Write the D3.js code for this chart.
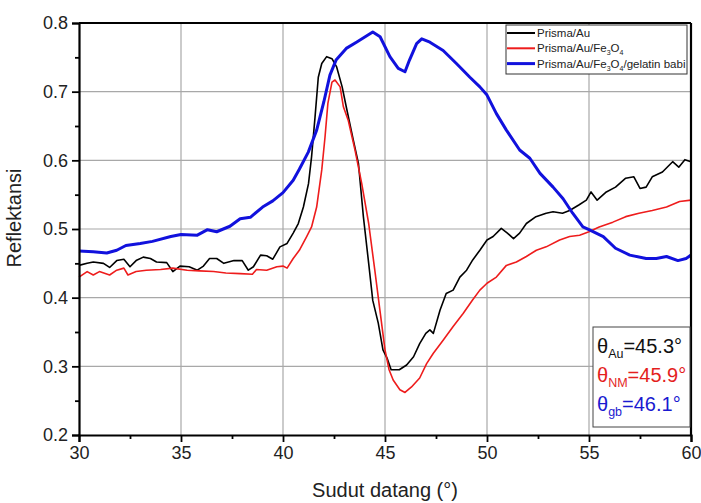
<!DOCTYPE html>
<html>
<head>
<meta charset="utf-8">
<script src="https://cdn.jsdelivr.net/npm/d3@7"></script>
<style>
  body { margin: 0; background: #fff; }
  text { font-family: "Liberation Sans", Arial, sans-serif; }
</style>
</head>
<body>
<div id="chart"></div>
<script>
// data
var auAngle = [30, 30.4, 30.7, 31.2, 31.5, 31.85, 32.2, 32.5, 32.8, 33.15, 33.5, 33.8, 34.3, 34.6, 34.95, 35.4, 35.8, 36.1, 36.4, 36.75, 37.1, 37.6, 38, 38.3, 38.55, 38.9, 39.2, 39.5, 39.85, 40.2, 40.5, 40.75, 41, 41.25, 41.4, 41.57, 41.73, 41.9, 42.14, 42.4, 42.63, 42.9, 43.1, 43.45, 43.7, 43.94, 44.2, 44.4, 44.67, 44.9, 45.1, 45.3, 45.7, 46.06, 46.4, 46.7, 47, 47.2, 47.37, 47.7, 48, 48.34, 48.67, 49, 49.3, 49.65, 50, 50.3, 50.7, 51, 51.3, 51.6, 51.93, 52.4, 52.9, 53.24, 53.7, 54.05, 54.5, 54.87, 55.1, 55.4, 55.85, 56.3, 56.8, 57.2, 57.5, 57.8, 58.1, 58.6, 59.1, 59.4, 59.7, 60];
var auValue = [0.447, 0.450, 0.452, 0.450, 0.444, 0.454, 0.456, 0.445, 0.454, 0.459, 0.457, 0.452, 0.451, 0.438, 0.446, 0.445, 0.440, 0.446, 0.457, 0.457, 0.450, 0.454, 0.454, 0.440, 0.445, 0.462, 0.461, 0.456, 0.474, 0.479, 0.494, 0.508, 0.532, 0.566, 0.605, 0.663, 0.721, 0.741, 0.751, 0.748, 0.736, 0.707, 0.678, 0.629, 0.595, 0.518, 0.450, 0.396, 0.363, 0.324, 0.312, 0.295, 0.295, 0.302, 0.314, 0.333, 0.348, 0.353, 0.348, 0.382, 0.406, 0.411, 0.430, 0.440, 0.455, 0.469, 0.484, 0.489, 0.501, 0.494, 0.486, 0.494, 0.508, 0.518, 0.523, 0.525, 0.523, 0.527, 0.535, 0.542, 0.554, 0.542, 0.554, 0.561, 0.574, 0.576, 0.559, 0.561, 0.576, 0.583, 0.598, 0.590, 0.601, 0.598];

var fe3o4Angle = [30, 30.4, 30.7, 31, 31.5, 31.85, 32.2, 32.4, 32.8, 33.3, 34, 34.6, 35.3, 35.9, 36.6, 37.2, 37.9, 38.5, 38.7, 39.2, 39.7, 40, 40.2, 40.5, 40.8, 41.16, 41.4, 41.65, 41.9, 42.06, 42.2, 42.4, 42.55, 42.8, 42.96, 43.2, 43.53, 43.86, 44.2, 44.5, 44.75, 45, 45.2, 45.4, 45.73, 45.98, 46.3, 46.7, 47.04, 47.37, 47.85, 48.34, 48.83, 49.3, 49.65, 50, 50.46, 50.95, 51.44, 51.93, 52.42, 52.9, 53.56, 54.05, 54.54, 55, 55.5, 56.17, 56.8, 57.45, 58.1, 58.8, 59.44, 60];
var fe3o4Value = [0.430, 0.438, 0.433, 0.438, 0.433, 0.440, 0.443, 0.433, 0.438, 0.440, 0.441, 0.443, 0.440, 0.439, 0.438, 0.436, 0.435, 0.434, 0.441, 0.440, 0.445, 0.446, 0.443, 0.457, 0.469, 0.489, 0.503, 0.532, 0.586, 0.634, 0.683, 0.714, 0.717, 0.707, 0.678, 0.658, 0.615, 0.566, 0.508, 0.440, 0.382, 0.324, 0.295, 0.280, 0.266, 0.262, 0.270, 0.283, 0.304, 0.319, 0.338, 0.358, 0.377, 0.397, 0.411, 0.421, 0.430, 0.447, 0.452, 0.460, 0.469, 0.474, 0.484, 0.489, 0.491, 0.496, 0.503, 0.510, 0.518, 0.523, 0.527, 0.532, 0.540, 0.542];

var gelatinAngle = [30, 30.7, 31.36, 31.85, 32.3, 33, 33.6, 34.5, 35, 35.8, 36.3, 36.75, 37.4, 37.9, 38.4, 39, 39.5, 40, 40.5, 40.8, 41.24, 41.65, 42, 42.3, 42.6, 43.1, 43.6, 44.4, 44.76, 45.24, 45.65, 45.98, 46.2, 46.55, 46.8, 47.2, 47.85, 48.5, 49.16, 49.65, 50, 50.46, 50.95, 51.6, 52.1, 52.6, 53.24, 53.73, 54.2, 54.7, 55, 55.7, 56.3, 57, 57.8, 58.3, 58.8, 59.36, 59.76, 60];
var gelatinValue = [0.468, 0.467, 0.465, 0.469, 0.476, 0.479, 0.482, 0.489, 0.492, 0.491, 0.499, 0.496, 0.504, 0.515, 0.517, 0.532, 0.541, 0.553, 0.571, 0.587, 0.612, 0.644, 0.685, 0.724, 0.746, 0.763, 0.772, 0.787, 0.780, 0.751, 0.734, 0.729, 0.746, 0.770, 0.777, 0.772, 0.760, 0.741, 0.721, 0.707, 0.695, 0.668, 0.644, 0.615, 0.603, 0.581, 0.561, 0.544, 0.523, 0.503, 0.499, 0.489, 0.472, 0.462, 0.457, 0.457, 0.460, 0.454, 0.457, 0.462];

var xTicks = [30, 35, 40, 45, 50, 55, 60];
var yTicks = [0.2, 0.3, 0.4, 0.5, 0.6, 0.7, 0.8];

// set the dimensions and margins of the graph
var margin = {top: 23, right: 10, bottom: 68, left: 79},
    width = 701 - margin.left - margin.right,
    height = 503 - margin.top - margin.bottom;

// set the ranges
var x = d3.scaleLinear().domain([30, 60]).range([0, width]);
var y = d3.scaleLinear().domain([0.2, 0.8]).range([height, 0]);

var svg = d3.select("#chart").append("svg")
    .attr("width", 701)
    .attr("height", 503)
    .append("g")
    .attr("transform", "translate(" + margin.left + "," + margin.top + ")");

// grid lines
svg.append("g")
    .selectAll("line")
    .data(xTicks.slice(1, -1))
    .enter().append("line")
    .attr("x1", function(d) { return x(d); })
    .attr("x2", function(d) { return x(d); })
    .attr("y1", 0)
    .attr("y2", height)
    .style("stroke", "#a8a8a8")
    .style("stroke-width", 1.2);

svg.append("g")
    .selectAll("line")
    .data(yTicks.slice(1, -1))
    .enter().append("line")
    .attr("x1", 0)
    .attr("x2", width)
    .attr("y1", function(d) { return y(d); })
    .attr("y2", function(d) { return y(d); })
    .style("stroke", "#a8a8a8")
    .style("stroke-width", 1.2);

// the three curves
var series = [
  {xs: auAngle, ys: auValue, color: "#000000", w: 1.6},
  {xs: fe3o4Angle, ys: fe3o4Value, color: "#ee1c1c", w: 1.6},
  {xs: gelatinAngle, ys: gelatinValue, color: "#1111dd", w: 3}
];

var line = d3.line()
    .x(function(d) { return x(d[0]); })
    .y(function(d) { return y(d[1]); });

series.forEach(function(s) {
  var pts = s.xs.map(function(v, i) { return [v, s.ys[i]]; });
  svg.append("path")
      .datum(pts)
      .attr("d", line)
      .style("fill", "none")
      .style("stroke", s.color)
      .style("stroke-width", s.w)
      .style("stroke-linejoin", "round");
});

// minor ticks
var xMinor = d3.range(32.5, 60, 5);
var yMinor = d3.range(0.25, 0.8, 0.1);

// Add the X Axis
var xAxis = svg.append("g")
    .attr("transform", "translate(0," + height + ")")
    .call(d3.axisBottom(x).tickValues(xTicks).tickSize(7).tickPadding(4).tickFormat(d3.format("d")));

svg.append("g")
    .attr("transform", "translate(0," + height + ")")
    .call(d3.axisBottom(x).tickValues(xMinor).tickSize(4).tickFormat(""))
    .select(".domain").remove();

// Add the Y Axis
var yAxis = svg.append("g")
    .call(d3.axisLeft(y).tickValues(yTicks).tickSize(7).tickPadding(4).tickFormat(d3.format(".1f")));

svg.append("g")
    .call(d3.axisLeft(y).tickValues(yMinor).tickSize(4).tickFormat(""))
    .select(".domain").remove();

svg.selectAll(".tick line").style("stroke-width", 1.8);
[xAxis, yAxis].forEach(function(a) {
  a.select(".domain").style("stroke-width", 2.2);
  a.selectAll("text")
      .style("font-size", "18px")
      .style("font-family", "Liberation Sans, Arial, sans-serif")
      .style("fill", "#222");
});

// top and right frame
svg.append("line").attr("x1", 0).attr("x2", width).attr("y1", 0).attr("y2", 0)
    .style("stroke", "#000").style("stroke-width", 2.2);
svg.append("line").attr("x1", width).attr("x2", width).attr("y1", 0).attr("y2", height)
    .style("stroke", "#000").style("stroke-width", 2.2);

// axis titles
svg.append("text")
    .attr("x", width / 2)
    .attr("y", height + 62)
    .style("text-anchor", "middle")
    .style("font-size", "20px")
    .style("fill", "#222")
    .text("Sudut datang (°)");

svg.append("text")
    .attr("transform", "rotate(-90)")
    .attr("x", -195)
    .attr("y", -58)
    .style("text-anchor", "middle")
    .style("font-size", "20px")
    .style("fill", "#222")
    .text("Reflektansi");

// legend
var legend = svg.append("g").attr("transform", "translate(" + (width - 185) + ",2)");
legend.append("rect")
    .attr("width", 181)
    .attr("height", 49)
    .style("fill", "#fff")
    .style("stroke", "#333")
    .style("stroke-width", 1);

var legendItems = [
  {color: "#000000", w: 2, parts: [["Prisma/Au", 0]]},
  {color: "#ee1c1c", w: 2, parts: [["Prisma/Au/Fe", 0], ["3", 1], ["O", 0], ["4", 1]]},
  {color: "#1111dd", w: 3, parts: [["Prisma/Au/Fe", 0], ["3", 1], ["O", 0], ["4", 1], ["/gelatin babi", 0]]}
];

legendItems.forEach(function(d, i) {
  var yy = 8 + i * 15.3;
  legend.append("line")
      .attr("x1", 1).attr("x2", 29)
      .attr("y1", yy).attr("y2", yy)
      .style("stroke", d.color)
      .style("stroke-width", d.w);
  var t = legend.append("text")
      .attr("x", 31)
      .attr("y", yy + 4)
      .style("font-size", "11.5px")
      .style("fill", "#222");
  var prev = 0;
  d.parts.forEach(function(p) {
    t.append("tspan")
        .attr("dy", (p[1] - prev) * 3)
        .style("font-size", p[1] ? "7px" : "11.5px")
        .text(p[0]);
    prev = p[1];
  });
});

// resonance angle box
var box = svg.append("g").attr("transform", "translate(" + (width - 98) + "," + (height - 108) + ")");
box.append("rect")
    .attr("width", 97)
    .attr("height", 100)
    .style("fill", "#fff")
    .style("stroke", "#444")
    .style("stroke-width", 1);

var angleLabels = [
  {sub: "Au", val: "=45.3°", color: "#111"},
  {sub: "NM", val: "=45.9°", color: "#e41e1e"},
  {sub: "gb", val: "=46.1°", color: "#1a1ad0"}
];

angleLabels.forEach(function(d, i) {
  var t = box.append("text")
      .attr("x", 4)
      .attr("y", 26 + i * 29)
      .style("font-size", "20px")
      .style("fill", d.color);
  t.append("tspan").text("θ");
  t.append("tspan").attr("dy", 5).style("font-size", "12.5px").text(d.sub);
  t.append("tspan").attr("dy", -5).text(d.val);
});
</script>
</body>
</html>
